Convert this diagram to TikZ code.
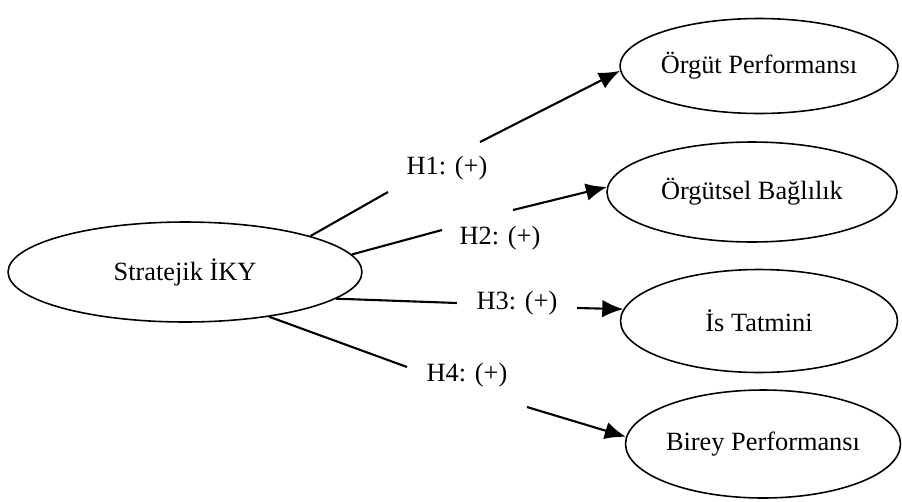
\documentclass[tikz,border=0pt]{standalone}
\usepackage{fontspec}
\setmainfont{Liberation Serif}
\usetikzlibrary{arrows.meta, shapes.geometric}

\begin{document}
\begin{tikzpicture}[
    x = 0.02cm, y = -0.02cm,
    %
    construct/.style = {draw, ellipse,
      line width = 0.9pt,
      inner sep = 0pt,
      font = \fontsize{15}{18}\selectfont},
    %
    link/.style = {line width = 1.2pt},
    hyp/.style = {font = \fontsize{15}{18}\selectfont},
    ]

    \useasboundingbox (0, 0) rectangle (902, 501);

    \node at (185, 272)
    [construct, minimum width = 7.08cm, minimum height = 2.0cm, name = ik]
    {Stratejik İKY};

    \node at (759, 66)
    [construct, minimum width = 5.56cm, minimum height = 1.9cm, name = op]
    {Örgüt Performansı};
    \node at (752, 192)
    [construct, minimum width = 5.8cm, minimum height = 2.0cm, name = ob]
    {Örgütsel Bağlılık};
    \node at (759, 321)
    [construct, minimum width = 5.54cm, minimum height = 2.06cm, name = it]
    {İs Tatmini};
    \node at (763, 444)
    [construct, minimum width = 5.5cm, minimum height = 2.16cm, name = bp]
    {Birey Performansı};

    \node at (447, 168) [hyp, name = h1] {H1: (+)};
    \node at (500, 238) [hyp, name = h2] {H2: (+)};
    \node at (517, 303) [hyp, name = h3] {H3: (+)};
    \node at (467, 375) [hyp, name = h4] {H4: (+)};

    \coordinate (h1a) at (388, 192);
    \coordinate (h1b) at (480, 142);
    \coordinate (h2a) at (442, 230);
    \coordinate (h2b) at (513, 210);
    \coordinate (h3a) at (457, 303);
    \coordinate (h3b) at (577, 308);
    \coordinate (h4a) at (407, 367);
    \coordinate (h4b) at (527, 407);

    \draw [link] (ik.16) -- (h1a);
    \draw [link, -{Latex[length=12pt, width=10pt]}] (h1b) -- (op.182);

    \draw [link] (ik.6) -- (h2a);
    \draw [link, -{Latex[length=12pt, width=10pt]}] (h2b) -- (ob.178);

    \draw [link] (ik.-10) -- (h3a);
    \draw [link, -{Latex[length=12pt, width=10pt]}] (h3b) -- (it.175);

    \draw [link] (ik.-28) -- (h4a);
    \draw [link, -{Latex[length=12pt, width=10pt]}] (h4b) -- (bp.177);

  \end{tikzpicture}
\end{document}
